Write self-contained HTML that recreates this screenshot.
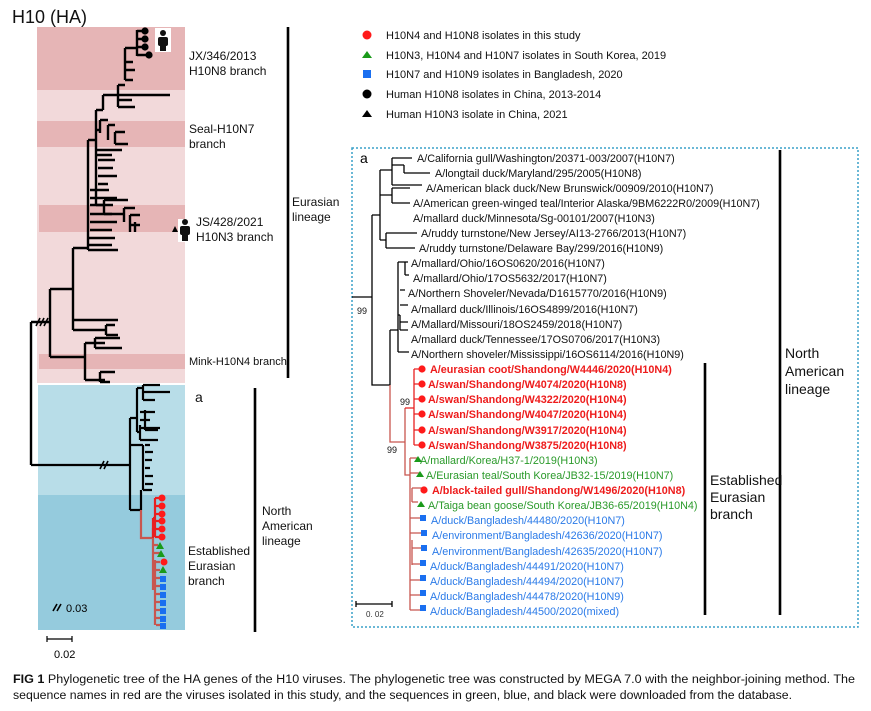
<!DOCTYPE html>
<html><head><meta charset="utf-8"><style>
html,body{margin:0;padding:0;background:#fff;}
svg{display:block;}
text{font-family:"Liberation Sans",sans-serif;}
</style></head><body>
<svg width="871" height="711" viewBox="0 0 871 711" xmlns="http://www.w3.org/2000/svg">
<text x="12" y="23" font-size="18" fill="#111">H10 (HA)</text>
<rect x="37" y="27" width="148" height="356" fill="#f2d9da"/>
<rect x="37" y="27" width="148" height="63" fill="#e6b5b6"/>
<rect x="37" y="121" width="148" height="26" fill="#e6b5b6"/>
<rect x="39" y="205" width="146" height="27" fill="#e6b5b6"/>
<rect x="39" y="354" width="146" height="15" fill="#e6b5b6"/>
<rect x="38" y="385" width="147" height="110" fill="#b8dde8"/>
<rect x="38" y="495" width="147" height="135" fill="#95cbdd"/>

<g stroke="#000" stroke-width="2.4" fill="none">
<path d="M31 322V465M31 322H50M50 289V357M50 289H73M73 248V330M73 330H106M73 320H118M106 325V335M106 325H115M106 335H118"/>
<path d="M50 357H85M85 343V380M85 343H105M95 338V348M95 338H120M95 348H122M85 380H105M100 372V382M100 372H115M100 382H110"/>
<path d="M73 248H88M88 140V250M88 250H118M88 245H112M88 238H115M90 230H112M90 222H117M90 214H112M90 205H113M90 198H117M90 190H109"/>
<path d="M88 140H96M96 110V205M96 205H104M104 200V214M104 200H128M104 214H124M124 208V222M124 208H135M130 215V232M130 215H140M130 225H140M135 222V232"/>
<path d="M96 150H122M96 155H112M98 160H115M98 168H113M98 176H117M98 184H108M96 130H100M100 120V133M100 120H108M108 125V140M108 125H115M115 132V144M115 132H125M115 144H128"/>
<path d="M96 110H103M103 95V110M103 95H118M118 85V107M118 95H170M118 100H132M118 107H135M118 85H125M125 48V80M125 80H133M125 70H135M125 62H133M125 48H137M137 30V56M137 31H145M137 39H145M137 47H145M137 55H148"/>
</g>
<g stroke="#000" stroke-width="1.6"><path d="M36 326L40 318M40 326L44 318M44 326L48 318"/></g>
<g fill="#000"><circle cx="145" cy="31" r="3.6"/><circle cx="145" cy="39" r="3.6"/><circle cx="145" cy="47" r="3.6"/><circle cx="149" cy="55" r="3.6"/></g>
<rect x="155" y="28" width="16" height="24" fill="#fff"/>
<g fill="#111"><circle cx="163" cy="33" r="3"/><rect x="158" y="37" width="10" height="9" rx="2"/><rect x="160" y="44" width="6" height="7"/></g>
<polygon points="172,232 175,226 178,232" fill="#000"/>
<rect x="178" y="219" width="13" height="23" fill="#fff"/>
<g fill="#111"><circle cx="185" cy="222" r="3"/><rect x="180" y="226" width="10" height="9" rx="2"/><rect x="182" y="233" width="6" height="8"/></g>

<g stroke="#000" stroke-width="2.2" fill="none">
<path d="M31 465H130M130 418V510M130 418H137M137 388V432M137 388H143M143 385V400M143 385H160M143 392H170M143 400H155M140 412H155M140 420H150M145 410V430M145 430H158M137 432H140M140 425V440M140 428H160M140 440H158"/>
<path d="M130 445H143M143 445V490M145 445H150M145 452H153M145 460H152M145 468H150M145 476H153M145 484H153M143 490H152M130 510H141M141 490V510"/>
</g>
<g stroke="#c8564f" stroke-width="2.2" fill="none"><path d="M141 510V538H153M153 528V590M153 545H158M153 553H160M155 560V625M155 562H160M155 570H160M156 578H162M156 586H162M156 594H162M156 602H162M156 610H162M156 618H162M156 625H162"/></g>
<g stroke="#e82020" stroke-width="2.2" fill="none"><path d="M153 518V538M155 498V537M155 498H162M155 506H162M155 514H162M155 521H162M155 529H162M155 537H162M153 518H155"/></g>
<g fill="#ff1a1a"><circle cx="162" cy="498" r="3.5"/><circle cx="162" cy="506" r="3.5"/><circle cx="162" cy="514" r="3.5"/><circle cx="162" cy="521" r="3.5"/><circle cx="162" cy="529" r="3.5"/><circle cx="162" cy="537" r="3.5"/><circle cx="164" cy="562" r="3.5"/></g>
<g fill="#1a9a1a"><polygon points="156,549 160,542 164,549"/><polygon points="157,557 161,550 165,557"/><polygon points="159,573 163,566 167,573"/></g>
<g fill="#1a6ff0"><rect x="160" y="576" width="6" height="6"/><rect x="160" y="584" width="6" height="6"/><rect x="160" y="592" width="6" height="6"/><rect x="160" y="600" width="6" height="6"/><rect x="160" y="608" width="6" height="6"/><rect x="160" y="616" width="6" height="6"/><rect x="160" y="623" width="6" height="6"/></g>
<g stroke="#000" stroke-width="1.6"><path d="M100 469L104 461M104 469L108 461"/><path d="M53 611L57 604M57 611L61 604"/></g>
<text x="66" y="612" font-size="11">0.03</text>
<path d="M47 639H72M47 636V642M72 636V642" stroke="#000" stroke-width="1.2"/>
<text x="54" y="658" font-size="11">0.02</text>

<g font-size="12" fill="#111">
<text x="189" y="60">JX/346/2013</text><text x="189" y="75">H10N8 branch</text>
<text x="189" y="133">Seal-H10N7</text><text x="189" y="148">branch</text>
<text x="196" y="226">JS/428/2021</text><text x="196" y="241">H10N3 branch</text>
<text x="189" y="365" font-size="11">Mink-H10N4 branch</text>
<text x="195" y="402" font-size="14">a</text>
<text x="188" y="555">Established</text><text x="188" y="570">Eurasian</text><text x="188" y="585">branch</text>
<text x="292" y="206">Eurasian</text><text x="292" y="221">lineage</text>
<text x="262" y="515">North</text><text x="262" y="530">American</text><text x="262" y="545">lineage</text>
</g>
<path d="M288 27V378M255 388V632" stroke="#000" stroke-width="2.6"/>

<circle cx="367" cy="35" r="4.5" fill="#ff1a1a"/>
<polygon points="362,58 367,51 372,58" fill="#1a9a1a"/>
<rect x="363" y="70" width="8" height="8" fill="#1a6ff0"/>
<circle cx="367" cy="94" r="4.5" fill="#000"/>
<polygon points="362,117 367,110 372,117" fill="#000"/>
<g font-size="11" fill="#111">
<text x="386" y="39">H10N4 and H10N8 isolates in this study</text>
<text x="386" y="59">H10N3, H10N4 and H10N7 isolates in South Korea, 2019</text>
<text x="386" y="78">H10N7 and H10N9 isolates in Bangladesh, 2020</text>
<text x="386" y="98">Human H10N8 isolates in China, 2013-2014</text>
<text x="386" y="118">Human H10N3 isolate in China, 2021</text>
</g>

<rect x="352" y="148" width="506" height="479" fill="none" stroke="#3aa0c8" stroke-width="1.5" stroke-dasharray="2,2"/>
<text x="360" y="163" font-size="14">a</text>
<g stroke="#000" stroke-width="1.3" fill="none">
<path d="M352 297H372M372 215V385H390M372 215H380M380 170V240M380 170H392M392 158V185M392 158H412M392 165H404M404 165V173M404 173H430M392 185H422M380 195H392M392 188V203M392 188H410M392 203H410M380 240H386M386 233V248M386 233H417M386 248H415"/>
<path d="M390 330V385M390 330H398M398 262V352M398 262H405M405 262V275M405 262H408M405 275H409M400 290H405M400 305H408M398 315H400M400 315V330M400 322H408M400 330H408M398 352H409"/>
</g>
<g stroke="#c8564f" stroke-width="1.3" fill="none"><path d="M390 385V442H405M405 408V475H410M410 458V610M410 458H417M410 473H420M412 488V502M412 488H423M412 502H418M410 518H421M410 533H422M412 540V565M412 548H422M412 564H421M410 580H421M410 595H421M410 610H421"/></g>
<g stroke="#e82020" stroke-width="1.3" fill="none"><path d="M405 408H414M414 369V445M414 369H420M414 384H420M414 399H420M414 414H420M414 430H420M414 445H420"/></g>
<text x="357" y="314" font-size="9" fill="#111">99</text>
<text x="400" y="405" font-size="9" fill="#111">99</text>
<text x="387" y="453" font-size="9" fill="#111">99</text>
<path d="M356 604H392M356 601V607M392 601V607" stroke="#000" stroke-width="1.3"/>
<text x="366" y="617" font-size="8" fill="#333">0. 02</text>

<g font-size="10.8" fill="#111">
<text x="417" y="162">A/California gull/Washington/20371-003/2007(H10N7)</text>
<text x="435" y="177">A/longtail duck/Maryland/295/2005(H10N8)</text>
<text x="426" y="192">A/American black duck/New Brunswick/00909/2010(H10N7)</text>
<text x="413" y="207">A/American green-winged teal/Interior Alaska/9BM6222R0/2009(H10N7)</text>
<text x="413" y="222">A/mallard duck/Minnesota/Sg-00101/2007(H10N3)</text>
<text x="421" y="237">A/ruddy turnstone/New Jersey/AI13-2766/2013(H10N7)</text>
<text x="419" y="252">A/ruddy turnstone/Delaware Bay/299/2016(H10N9)</text>
<text x="411" y="267">A/mallard/Ohio/16OS0620/2016(H10N7)</text>
<text x="413" y="282">A/mallard/Ohio/17OS5632/2017(H10N7)</text>
<text x="408" y="297">A/Northern Shoveler/Nevada/D1615770/2016(H10N9)</text>
<text x="411" y="313">A/mallard duck/Illinois/16OS4899/2016(H10N7)</text>
<text x="411" y="328">A/Mallard/Missouri/18OS2459/2018(H10N7)</text>
<text x="411" y="343">A/mallard duck/Tennessee/17OS0706/2017(H10N3)</text>
<text x="411" y="358">A/Northern shoveler/Mississippi/16OS6114/2016(H10N9)</text>
</g>
<g font-size="10.8" fill="#ee1c1c" font-weight="bold">
<text x="430" y="373">A/eurasian coot/Shandong/W4446/2020(H10N4)</text>
<text x="428" y="388">A/swan/Shandong/W4074/2020(H10N8)</text>
<text x="428" y="403">A/swan/Shandong/W4322/2020(H10N4)</text>
<text x="428" y="418">A/swan/Shandong/W4047/2020(H10N4)</text>
<text x="428" y="434">A/swan/Shandong/W3917/2020(H10N4)</text>
<text x="428" y="449">A/swan/Shandong/W3875/2020(H10N8)</text>
<text x="432" y="494">A/black-tailed gull/Shandong/W1496/2020(H10N8)</text>
</g>
<g font-size="10.8" fill="#2a9a2a">
<text x="420" y="464">A/mallard/Korea/H37-1/2019(H10N3)</text>
<text x="426" y="479">A/Eurasian teal/South Korea/JB32-15/2019(H10N7)</text>
<text x="428" y="509">A/Taiga bean goose/South Korea/JB36-65/2019(H10N4)</text>
</g>
<g font-size="10.8" fill="#2a7ae8">
<text x="431" y="524">A/duck/Bangladesh/44480/2020(H10N7)</text>
<text x="432" y="539">A/environment/Bangladesh/42636/2020(H10N7)</text>
<text x="432" y="555">A/environment/Bangladesh/42635/2020(H10N7)</text>
<text x="430" y="570">A/duck/Bangladesh/44491/2020(H10N7)</text>
<text x="430" y="585">A/duck/Bangladesh/44494/2020(H10N7)</text>
<text x="430" y="600">A/duck/Bangladesh/44478/2020(H10N9)</text>
<text x="430" y="615">A/duck/Bangladesh/44500/2020(mixed)</text>
</g>
<g fill="#ff1a1a"><circle cx="422" cy="369" r="3.6"/><circle cx="422" cy="384" r="3.6"/><circle cx="422" cy="399" r="3.6"/><circle cx="422" cy="414" r="3.6"/><circle cx="422" cy="430" r="3.6"/><circle cx="422" cy="445" r="3.6"/><circle cx="424" cy="490" r="3.6"/></g>
<g fill="#1a9a1a"><polygon points="414,462 418,456 422,462"/><polygon points="416,477 420,471 424,477"/><polygon points="417,507 421,501 425,507"/></g>
<g fill="#1a6ff0"><rect x="420" y="515" width="6" height="6"/><rect x="421" y="530" width="6" height="6"/><rect x="421" y="545" width="6" height="6"/><rect x="420" y="560" width="6" height="6"/><rect x="420" y="575" width="6" height="6"/><rect x="420" y="590" width="6" height="6"/><rect x="420" y="605" width="6" height="6"/></g>
<path d="M705 363V615M780 150V615" stroke="#000" stroke-width="2.6"/>
<g font-size="14" fill="#111">
<text x="710" y="485">Established</text><text x="710" y="502">Eurasian</text><text x="710" y="519">branch</text>
<text x="785" y="358">North</text><text x="785" y="376">American</text><text x="785" y="394">lineage</text>
</g>

<g font-size="11.5" fill="#111">
<text x="13" y="683" textLength="842" lengthAdjust="spacingAndGlyphs"><tspan font-weight="bold">FIG 1</tspan> Phylogenetic tree of the HA genes of the H10 viruses. The phylogenetic tree was constructed by MEGA 7.0 with the neighbor-joining method. The</text>
<text x="13" y="699" textLength="779" lengthAdjust="spacingAndGlyphs">sequence names in red are the viruses isolated in this study, and the sequences in green, blue, and black were downloaded from the database.</text>
</g>
</svg>
</body></html>
